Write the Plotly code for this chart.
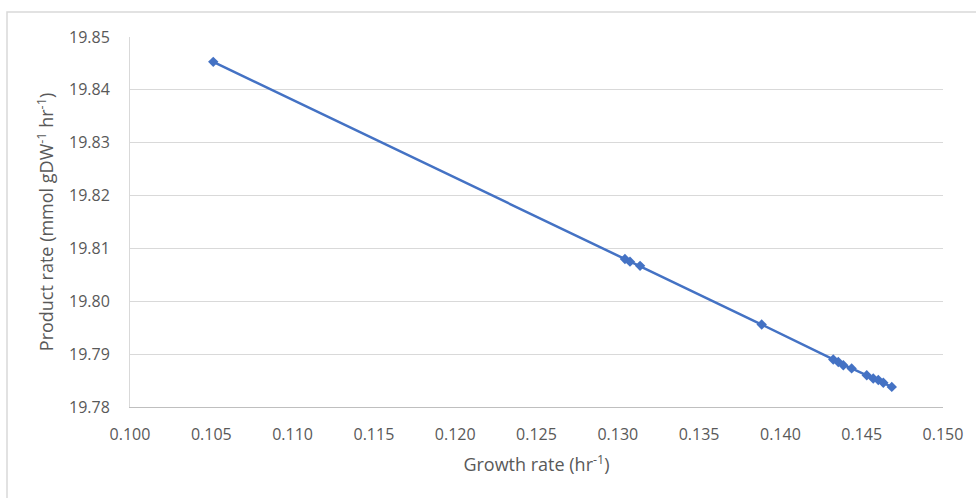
import plotly.graph_objects as go

growth_rate = [0.10512, 0.13044, 0.13075, 0.13137, 0.13885, 0.14325, 0.14356,
               0.14387, 0.14438, 0.14531, 0.14571, 0.14602, 0.14633, 0.14685]
product_rate = [19.8453, 19.8080, 19.8075, 19.8067, 19.7956, 19.7890, 19.7885,
                19.7879, 19.7873, 19.7860, 19.7854, 19.7851, 19.7846, 19.7838]

x_ticks = [0.100, 0.105, 0.110, 0.115, 0.120, 0.125, 0.130, 0.135, 0.140, 0.145, 0.150]
y_ticks = [19.78, 19.79, 19.80, 19.81, 19.82, 19.83, 19.84, 19.85]

W, H = 976, 498
L, R, T, B = 130, 33, 37, 91
pw, ph = W - L - R, H - T - B

fig = go.Figure()
fig.add_trace(go.Scatter(
    x=growth_rate, y=product_rate, mode="lines+markers",
    line=dict(color="#4472C4", width=2.5),
    marker=dict(symbol="diamond", size=8, color="#4472C4"),
    showlegend=False,
))

font = dict(family="Open Sans, Liberation Sans, sans-serif", size=16, color="#595959")

fig.update_layout(
    width=W, height=H,
    margin=dict(l=L, r=R, t=T, b=B),
    paper_bgcolor="white", plot_bgcolor="white",
    font=font,
    xaxis=dict(
        range=[0.100, 0.150], tickvals=x_ticks, tickformat=".3f",
        showgrid=False, zeroline=False,
        showline=True, linecolor="#bfbfbf", linewidth=1,
        ticks="", ticklabelstandoff=13,
        title=dict(text="Growth rate (hr<sup>-1</sup>)", standoff=14, font=dict(size=18)),
    ),
    yaxis=dict(
        range=[19.78, 19.85], tickvals=y_ticks, tickformat=".2f",
        showgrid=True, gridcolor="#d9d9d9", gridwidth=1, zeroline=False,
        showline=True, linecolor="#d9d9d9", linewidth=1,
        ticks="", ticklabelstandoff=16,
        title=dict(text="Product rate (mmol gDW<sup>-1</sup> hr<sup>-1</sup>)", standoff=10, font=dict(size=18)),
    ),
    shapes=[dict(
        type="rect", xref="paper", yref="paper", layer="below",
        x0=(7 - L) / pw, x1=(W + 10 - L) / pw,
        y0=(H - B - (H + 10)) / ph, y1=(H - B - 12) / ph,
        line=dict(color="#d9d9d9", width=1.5), fillcolor="rgba(0,0,0,0)",
    )],
)

fig.write_html("out.html", config={"displayModeBar": False},
               post_script="document.body.style.margin='0';")
